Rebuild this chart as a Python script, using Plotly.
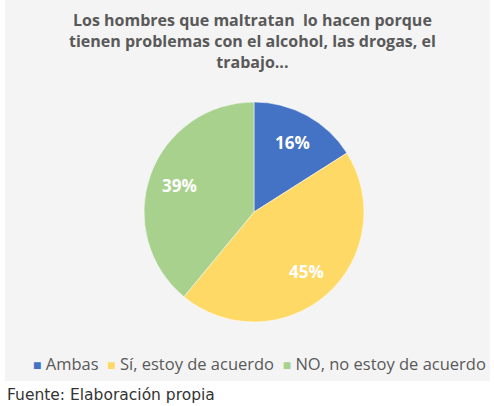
import math
import plotly.graph_objects as go

categories = ["Ambas", "Sí, estoy de acuerdo", "NO, no estoy de acuerdo"]
values = [16, 45, 39]
colors = ["#4472C4", "#FFD966", "#A9D18E"]
title_text = "Los hombres que maltratan  lo hacen porque<br>tienen problemas con el alcohol, las drogas, el<br>trabajo..."
source_text = "Fuente: Elaboración propia"

W, H = 494, 406
CX, CY, R = 254, 212, 110  # pie centre / radius in pixels

fig = go.Figure()
fig.add_trace(go.Pie(
    labels=categories,
    values=values,
    sort=False,
    direction="clockwise",
    rotation=0,
    marker=dict(colors=colors, line=dict(color="white", width=0.5)),
    textinfo="none",
    showlegend=False,
    domain=dict(x=[(CX - R) / W, (CX + R) / W], y=[(H - CY - R) / H, (H - CY + R) / H]),
    hoverinfo="label+percent",
))

# percentage labels, placed at each slice's mid-angle
total = sum(values)
cum = 0
for v in values:
    mid = (cum + v / 2) / total * 2 * math.pi
    cum += v
    rf = 0.72
    px = CX + rf * R * math.sin(mid)
    py = CY - rf * R * math.cos(mid)
    fig.add_annotation(text="<b>%d%%</b>" % round(100 * v / total), xref="paper", yref="paper",
                       x=px / W, y=(H - py) / H, showarrow=False,
                       xanchor="center", yanchor="middle",
                       font=dict(family="Open Sans", size=17, color="white"))

# chart-area background
fig.add_shape(type="rect", xref="paper", yref="paper",
              x0=5 / W, x1=490 / W, y0=(H - 381) / H, y1=1,
              fillcolor="#f4f4f4", line=dict(width=0), layer="below")

# title
fig.add_annotation(text="<b>" + title_text + "</b>", xref="paper", yref="paper",
                   x=252 / W, y=1 - 7 / H, xanchor="center", yanchor="top",
                   showarrow=False, align="center",
                   font=dict(family="Open Sans", size=16, color="#595959"))

# legend (built from the categories / colours)
legend_parts = []
for c, col in zip(categories, colors):
    legend_parts.append("<span style='color:%s;font-size:14px'>■</span> %s" % (col, c))
legend_text = "  ".join(legend_parts)
fig.add_annotation(text=legend_text, xref="paper", yref="paper",
                   x=259 / W, y=(H - 363) / H, xanchor="center", yanchor="middle",
                   showarrow=False,
                   font=dict(family="Open Sans", size=16.5, color="#595959"))

# source note
fig.add_annotation(text=source_text, xref="paper", yref="paper",
                   x=6 / W, y=(H - 395) / H, xanchor="left", yanchor="middle",
                   showarrow=False, borderpad=0,
                   font=dict(family="DejaVu Sans", size=15.5, color="#333333"))

fig.update_layout(
    width=W, height=H,
    margin=dict(l=0, r=0, t=0, b=0),
    paper_bgcolor="white",
    plot_bgcolor="white",
    showlegend=False,
)

fig.write_html("out.html", config={"displayModeBar": False},
               post_script="document.body.style.margin='0';document.body.style.padding='0';")
